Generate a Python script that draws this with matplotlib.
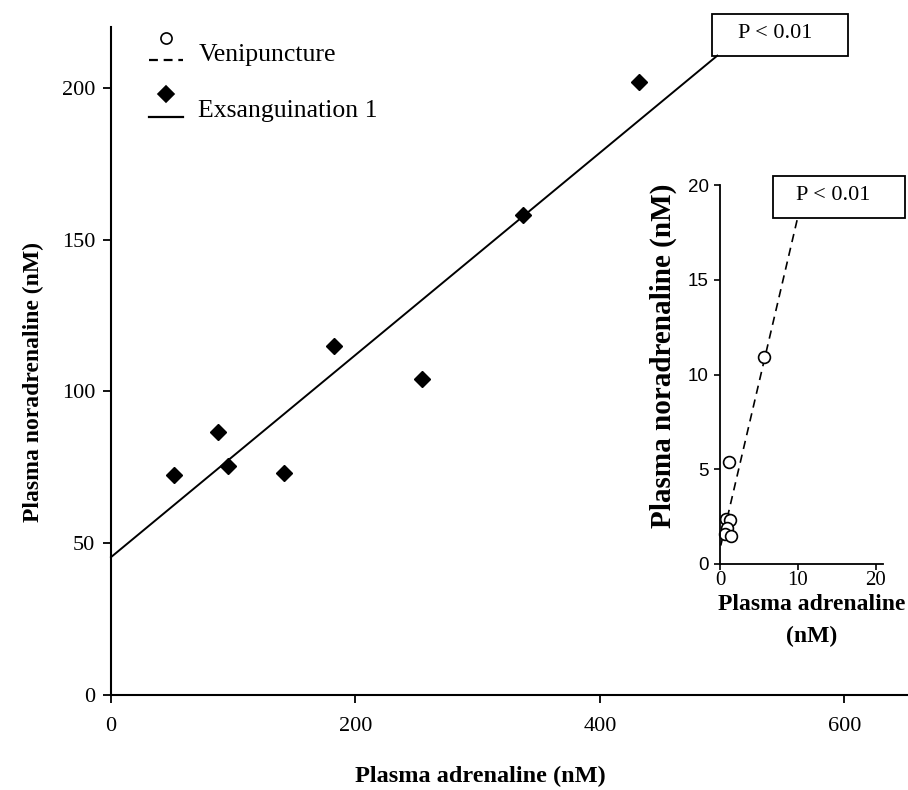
import matplotlib
matplotlib.use("Agg")
import matplotlib.pyplot as plt
import numpy as np
from matplotlib.lines import Line2D
from matplotlib.legend_handler import HandlerBase
from matplotlib.patches import Rectangle

# ---------------- data ----------------
exsang_adrenaline = [51.8, 87.8, 95.5, 141.5, 182.4, 254.4, 337.3, 431.7]
exsang_noradrenaline = [72.5, 86.6, 75.4, 73.0, 115.0, 104.0, 158.1, 202.0]
exsang_fit = (45.4, 0.333)          # intercept, slope
exsang_fit_range = (0.0, 496.0)

veni_adrenaline = [5.7, 1.2, 0.8, 1.3, 0.9, 0.6, 1.4]
veni_noradrenaline = [10.9, 5.4, 2.4, 2.3, 1.9, 1.6, 1.5]
veni_fit = (0.8, 1.75)
veni_fit_range = (0.1, 9.95)

main_xticks = [0, 200, 400, 600]
main_yticks = [0, 50, 100, 150, 200]
inset_xticks = [0, 10, 20]
inset_yticks = [0, 5, 10, 15, 20]

W, H = 908, 790
fig = plt.figure(figsize=(W / 100, H / 100), dpi=100)
serif = "Liberation Serif"
sans = "Liberation Sans"


def fx(px):
    return px / W


def fy(py):
    return 1 - py / H


# ---------------- main axes ----------------
ax = fig.add_axes([fx(111), fy(695), fx(908) - fx(111), fy(27) - fy(695)])
ax.set_xlim(0, 652)
ax.set_ylim(0, 220)
for s in ("top", "right"):
    ax.spines[s].set_visible(False)
for s in ("left", "bottom"):
    ax.spines[s].set_linewidth(1.5)
ax.set_xticks(main_xticks)
ax.set_yticks(main_yticks)
ax.tick_params(direction="out", length=5.5, width=1.3)
ax.tick_params(axis="y", pad=6)
ax.tick_params(axis="x", pad=10)
for lab in ax.get_xticklabels() + ax.get_yticklabels():
    lab.set_fontfamily(serif)
    lab.set_fontsize(16)

xf = np.array(exsang_fit_range)
ax.plot(xf, exsang_fit[0] + exsang_fit[1] * xf, color="black", lw=1.4, clip_on=False)
ax.plot(exsang_adrenaline, exsang_noradrenaline, linestyle="none", marker="D",
        ms=8.5, color="black", clip_on=False)

fig.text(fx(480), fy(776), "Plasma adrenaline (nM)", family=serif, weight="bold",
         fontsize=17.5, ha="center", va="center")
fig.text(fx(33), fy(382), "Plasma noradrenaline (nM)", family=serif, weight="bold",
         fontsize=17, ha="center", va="center", rotation=90)

# P box main
fig.add_artist(Rectangle((fx(712), fy(56)), fx(848) - fx(712), fy(14) - fy(56),
                         transform=fig.transFigure, fill=False, lw=1.3, ec="black"))
fig.text(fx(775), fy(34), "P < 0.01", family=serif, fontsize=16, ha="center", va="center")


# ---------------- legend ----------------
class MarkerAboveLine(HandlerBase):
    def create_artists(self, legend, orig_handle, xdescent, ydescent, width, height,
                       fontsize, trans):
        ly = 0.02 * fontsize
        my = 0.9 * fontsize
        dashed = orig_handle.get_linestyle() == "--"
        line = Line2D([-xdescent, -xdescent + width], [ly, ly],
                      color="black", lw=1.6, transform=trans)
        if dashed:
            line.set_dashes((4, 2.6))
        mk = Line2D([-xdescent + width / 2], [my], linestyle="none",
                    marker=orig_handle.get_marker(), ms=orig_handle.get_markersize(),
                    mfc=orig_handle.get_markerfacecolor(), mec="black", mew=1.2,
                    transform=trans)
        return [line, mk]


h1 = Line2D([], [], linestyle="--", marker="o", ms=8, mfc="white", color="black")
h2 = Line2D([], [], linestyle="-", marker="D", ms=8.5, mfc="black", color="black")
leg = fig.legend([h1, h2], ["Venipuncture", "Exsanguination 1"],
                 handler_map={h1: MarkerAboveLine(), h2: MarkerAboveLine()},
                 loc="upper left", bbox_to_anchor=(fx(149), fy(33)),
                 frameon=False, borderpad=0, borderaxespad=0,
                 handlelength=1.32, handleheight=2.0, handletextpad=0.6,
                 labelspacing=0.635, prop={"family": serif, "size": 18.5})

# ---------------- inset ----------------
ins = fig.add_axes([fx(720), fy(564), fx(883.3) - fx(720), fy(185) - fy(564)])
ins.set_xlim(0, 21)
ins.set_ylim(0, 20)
for s in ("top", "right"):
    ins.spines[s].set_visible(False)
for s in ("left", "bottom"):
    ins.spines[s].set_linewidth(1.3)
ins.set_xticks(inset_xticks)
ins.set_yticks(inset_yticks)
ins.tick_params(direction="out", length=4, width=1.2)
ins.tick_params(axis="x", pad=1)
ins.tick_params(axis="y", pad=4)
for lab in ins.get_xticklabels():
    lab.set_fontfamily(serif)
    lab.set_fontsize(15)
for lab in ins.get_yticklabels():
    lab.set_fontfamily(sans)
    lab.set_fontsize(13.5)

xv = np.array(veni_fit_range)
ins.plot(xv, veni_fit[0] + veni_fit[1] * xv, color="black", lw=1.2,
         linestyle=(0, (5, 3.5)), clip_on=False)
ins.plot(veni_adrenaline, veni_noradrenaline, linestyle="none", marker="o", ms=8.5,
         mfc="white", mec="black", mew=1.2, clip_on=False)

fig.text(fx(812), fy(604), "Plasma adrenaline", family=serif, weight="bold",
         fontsize=17, ha="center", va="center")
fig.text(fx(812), fy(636), "(nM)", family=serif, weight="bold",
         fontsize=17, ha="center", va="center")
fig.text(fx(663), fy(356), "Plasma noradrenaline (nM)", family=serif, weight="bold",
         fontsize=21, ha="center", va="center", rotation=90)

fig.add_artist(Rectangle((fx(773), fy(218)), fx(905) - fx(773), fy(176) - fy(218),
                         transform=fig.transFigure, fill=False, lw=1.3, ec="black"))
fig.text(fx(833), fy(196), "P < 0.01", family=serif, fontsize=16, ha="center", va="center")

fig.savefig("out.png", dpi=100)
